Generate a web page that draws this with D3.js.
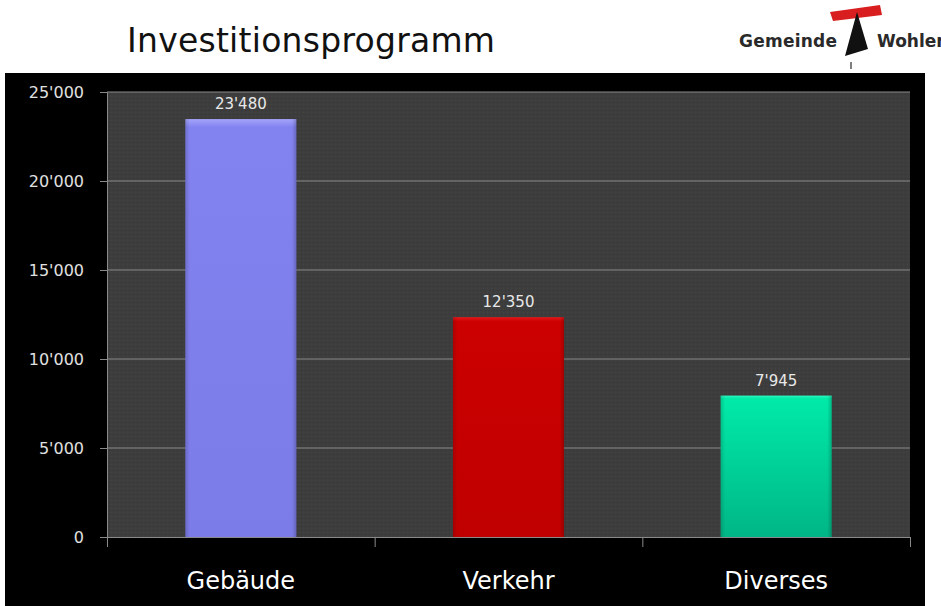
<!DOCTYPE html>
<html>
<head>
<meta charset="utf-8">
<script src="https://cdn.jsdelivr.net/npm/d3@7"></script>
<style>
  body { margin: 0; background: #fff; }
  svg { display: block; }
</style>
</head>
<body>
<div id="chart"></div>
<script>
// data
const categories = ["Gebäude", "Verkehr", "Diverses"];
const values = [23480, 12350, 7945];
const barColors = [
  ["#a4a4fa", "#8282f0", "#7c7ce8"],
  ["#e41818", "#cc0000", "#c00000"],
  ["#30f8c0", "#00eaa8", "#00b686"]
];
const yTicks = [0, 5000, 10000, 15000, 20000, 25000];

const W = 941, H = 606;
const margin = {top: 92, right: 31, bottom: 69, left: 107},
    width = W - margin.left - margin.right,
    height = H - margin.top - margin.bottom;

const loc = d3.formatLocale({decimal: ".", thousands: "'", grouping: [3], currency: ["", ""]});
const fmt = loc.format(",");

const svg = d3.select("#chart").append("svg")
  .attr("width", W).attr("height", H);

const defs = svg.append("defs");

// subtle texture on plot background
const pat = defs.append("pattern").attr("id", "tex")
  .attr("width", 4).attr("height", 4).attr("patternUnits", "userSpaceOnUse");
pat.append("rect").attr("width", 4).attr("height", 4).attr("fill", "#3d3d3d");
pat.append("rect").attr("width", 1).attr("height", 1).attr("fill", "#444");
pat.append("rect").attr("x", 2).attr("y", 2).attr("width", 1).attr("height", 1).attr("fill", "#363636");

barColors.forEach(function(c, i) {
  const g = defs.append("linearGradient").attr("id", "bar" + i)
    .attr("x1", 0).attr("y1", 0).attr("x2", 0).attr("y2", 1);
  g.append("stop").attr("offset", "0%").attr("stop-color", c[0]);
  g.append("stop").attr("offset", "2%").attr("stop-color", c[1]);
  g.append("stop").attr("offset", "100%").attr("stop-color", c[2]);
  const s = defs.append("linearGradient").attr("id", "side" + i)
    .attr("x1", 0).attr("y1", 0).attr("x2", 1).attr("y2", 0);
  s.append("stop").attr("offset", "0%").attr("stop-color", "#000").attr("stop-opacity", 0.15);
  s.append("stop").attr("offset", "4%").attr("stop-color", "#000").attr("stop-opacity", 0);
  s.append("stop").attr("offset", "96%").attr("stop-color", "#000").attr("stop-opacity", 0);
  s.append("stop").attr("offset", "100%").attr("stop-color", "#000").attr("stop-opacity", 0.2);
});

// title
svg.append("text")
  .attr("x", 127).attr("y", 52)
  .attr("textLength", 368)
  .style("font-family", "'DejaVu Sans', sans-serif")
  .style("font-size", "33px")
  .style("fill", "#111")
  .text("Investitionsprogramm");

// logo
const logo = svg.append("g");
logo.append("text")
  .attr("x", 739).attr("y", 47)
  .attr("textLength", 98)
  .style("font-family", "'DejaVu Sans', sans-serif")
  .style("font-weight", "bold")
  .style("font-size", "17px")
  .style("fill", "#2a2a2a")
  .text("Gemeinde");
logo.append("path")
  .attr("d", "M830,12 L880,5 L882,15 L833,21 Z")
  .attr("fill", "#d81e1e");
logo.append("path")
  .attr("d", "M857,12 L845,56 L868,49 Z")
  .attr("fill", "#111");
logo.append("path")
  .attr("d", "M851,62 L851,69")
  .attr("stroke", "#555").attr("stroke-width", 1.5);
logo.append("text")
  .attr("x", 877).attr("y", 47)
  .style("font-family", "'DejaVu Sans', sans-serif")
  .style("font-weight", "bold")
  .style("font-size", "17px")
  .style("fill", "#2a2a2a")
  .text("Wohlen");

// black panel
svg.append("rect")
  .attr("x", 5).attr("y", 73).attr("width", 920).attr("height", H - 73)
  .attr("fill", "#000");

const plot = svg.append("g")
  .attr("transform", "translate(" + margin.left + "," + margin.top + ")");

const x = d3.scaleBand()
  .domain(categories)
  .range([0, width])
  .paddingInner(0.585)
  .paddingOuter(0.2925);

const y = d3.scaleLinear()
  .domain([0, 25000])
  .range([height, 0]);

plot.append("rect")
  .attr("width", width).attr("height", height)
  .attr("fill", "url(#tex)");

// gridlines
plot.append("g").selectAll("line")
  .data(yTicks.slice(1))
  .join("line")
  .attr("x1", 0).attr("x2", width)
  .attr("y1", d => y(d)).attr("y2", d => y(d))
  .attr("stroke", "#8a8a8a").attr("stroke-width", 1);

// y axis
const yAxis = plot.append("g")
  .call(d3.axisLeft(y).tickValues(yTicks).tickFormat(fmt).tickSize(7).tickPadding(16));
yAxis.select(".domain").attr("stroke", "#8a8a8a");
yAxis.selectAll(".tick line").attr("stroke", "#8a8a8a");
yAxis.selectAll("text")
  .style("font-family", "'DejaVu Sans', sans-serif")
  .style("font-size", "16px")
  .style("fill", "#e0e0e0");

// x axis with ticks between categories
const xb = d3.scaleLinear().domain([0, categories.length]).range([0, width]);
const xAxis = plot.append("g")
  .attr("transform", "translate(0," + height + ")")
  .call(d3.axisBottom(xb).ticks(categories.length).tickFormat("").tickSize(10));
xAxis.select(".domain").attr("stroke", "#8a8a8a");
xAxis.selectAll(".tick line").attr("stroke", "#8a8a8a");

plot.append("g").selectAll("text")
  .data(categories)
  .join("text")
  .attr("x", d => x(d) + x.bandwidth() / 2)
  .attr("y", height + 52)
  .attr("text-anchor", "middle")
  .style("font-family", "'DejaVu Sans', sans-serif")
  .style("font-size", "24px")
  .style("fill", "#fff")
  .text(d => d);

// bars
const bars = plot.append("g").selectAll("g")
  .data(values)
  .join("g");

bars.append("rect")
  .attr("x", (d, i) => x(categories[i]))
  .attr("y", d => y(d))
  .attr("width", x.bandwidth())
  .attr("height", d => height - y(d))
  .attr("fill", (d, i) => "url(#bar" + i + ")");

bars.append("rect")
  .attr("x", (d, i) => x(categories[i]))
  .attr("y", d => y(d))
  .attr("width", x.bandwidth())
  .attr("height", d => height - y(d))
  .attr("fill", (d, i) => "url(#side" + i + ")");

bars.append("text")
  .attr("x", (d, i) => x(categories[i]) + x.bandwidth() / 2)
  .attr("y", d => y(d) - 10)
  .attr("text-anchor", "middle")
  .style("font-family", "'DejaVu Sans', sans-serif")
  .style("font-size", "15px")
  .style("fill", "#e8e8e8")
  .text(d => fmt(d));
</script>
</body>
</html>
